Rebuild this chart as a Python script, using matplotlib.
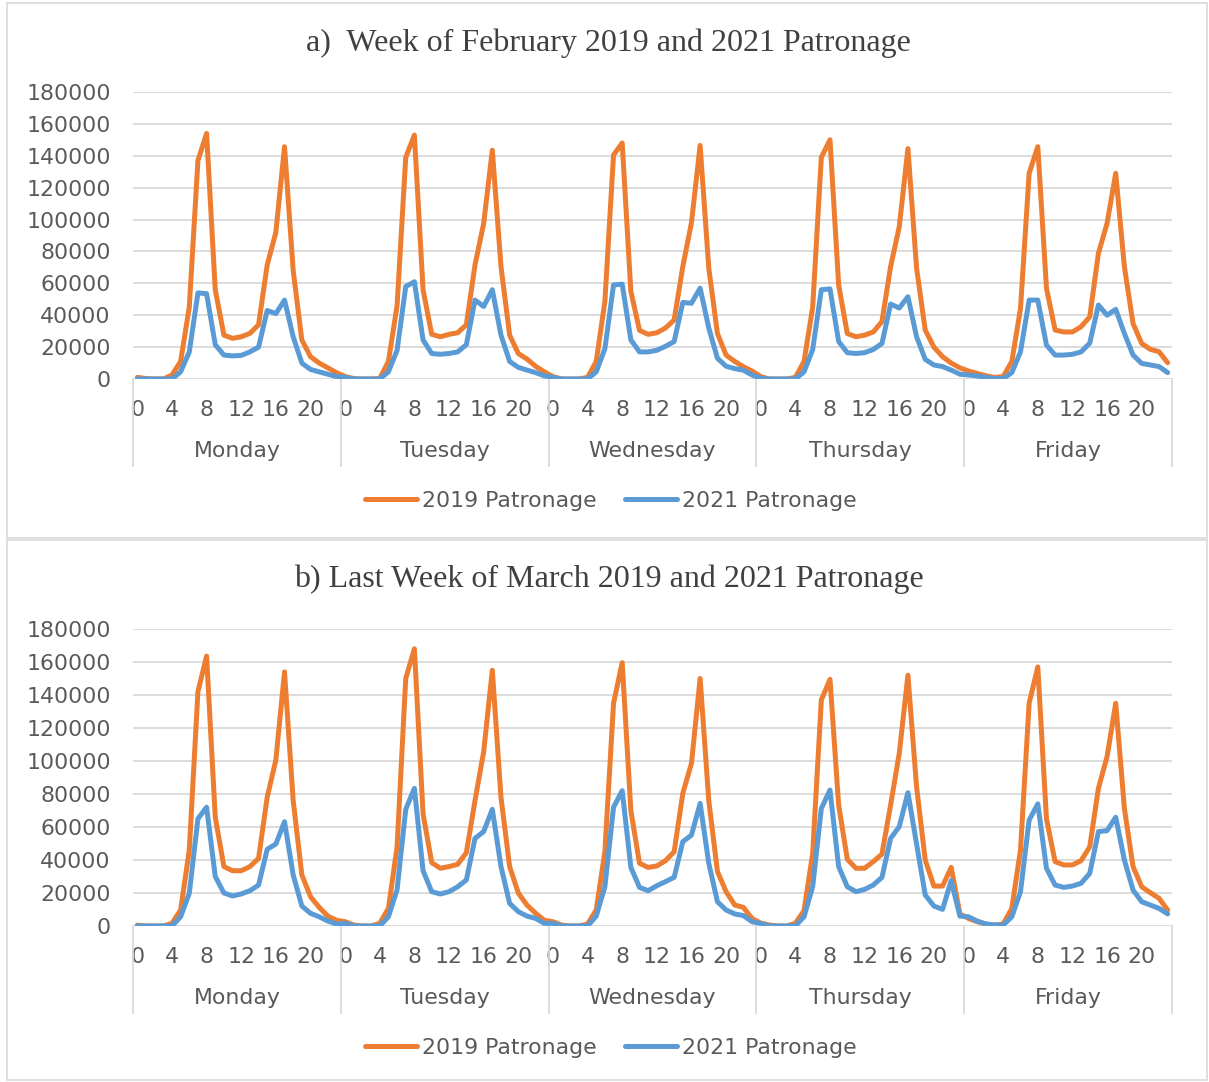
import matplotlib
matplotlib.use("Agg")
import matplotlib.pyplot as plt
from matplotlib.transforms import ScaledTranslation
from matplotlib.patches import Rectangle
from matplotlib.lines import Line2D

days = ["Monday", "Tuesday", "Wednesday", "Thursday", "Friday"]
hour_labels = ["0", "4", "8", "12", "16", "20"]
yticks = [0, 20000, 40000, 60000, 80000, 100000, 120000, 140000, 160000, 180000]

# a) week of February, hourly patronage Mon..Fri (24 values per day)
feb_2019 = [
    1000, 300, 0, 0, 2500, 11000, 45000, 137000, 154000, 56000, 27500, 25500,
    26500, 28600, 34000, 71500, 92000, 145700, 68000, 24500, 14000, 10000, 7000, 4000,
    1500, 300, 0, 0, 300, 11000, 46000, 139000, 153000, 56000, 28000, 26500,
    28000, 29000, 34000, 71500, 97500, 143500, 70500, 27500, 16000, 12500, 8000, 4500,
    1500, 0, 0, 0, 1000, 11000, 48500, 140500, 148000, 55000, 30500, 28000,
    29000, 32000, 37000, 70500, 98000, 146500, 69500, 28500, 15000, 11000, 7700, 5000,
    1500, 0, 0, 0, 1000, 11000, 45000, 139000, 150000, 59000, 28500, 26500,
    27500, 29500, 36000, 70500, 95500, 144500, 69500, 30700, 20000, 14000, 10000, 7000,
    5000, 3500, 2000, 1000, 1500, 11000, 44000, 129000, 145700, 57000, 30700, 29500,
    29500, 32800, 39000, 78800, 97600, 129000, 70400, 34800, 22300, 18600, 17100, 10200,
]
feb_2021 = [
    0, 0, 0, 0, 0, 4500, 17000, 54000, 53500, 21500, 15000, 14500,
    14800, 17000, 20000, 43000, 41000, 49500, 26500, 10000, 6000, 4500, 3000, 1500,
    1000, 0, 0, 0, 0, 4500, 18000, 58000, 61000, 24500, 16000, 15500,
    16000, 17000, 21500, 49500, 45500, 56000, 27500, 11000, 7300, 5600, 4000, 2000,
    1000, 0, 0, 0, 0, 4500, 19000, 59000, 59500, 24500, 17000, 17000,
    18000, 20500, 23500, 48000, 47500, 57000, 32000, 13000, 8000, 6500, 5500, 2500,
    500, 0, 0, 0, 0, 4500, 18500, 56000, 56500, 23500, 16500, 16000,
    16500, 18500, 22300, 47000, 44500, 51600, 26500, 12300, 8800, 7800, 5600, 3000,
    2500, 1900, 1000, 300, 300, 4000, 17000, 49500, 49500, 21300, 15000, 15000,
    15500, 17000, 22500, 46400, 40000, 43700, 28600, 15000, 9800, 8800, 7800, 4000,
]

# b) last week of March
mar_2019 = [
    500, 0, 0, 0, 1600, 9700, 46000, 142000, 163600, 66000, 36000, 33500,
    33500, 36000, 41000, 78000, 100600, 154000, 76000, 31000, 17800, 11300, 6000, 3500,
    2600, 600, 0, 0, 1600, 10700, 48000, 150000, 168000, 68000, 38400, 35000,
    36000, 37400, 44400, 76000, 105600, 155000, 78000, 36000, 20000, 12700, 7700, 3500,
    2600, 600, 0, 0, 1200, 9700, 45000, 135000, 159600, 70000, 38000, 35500,
    36400, 39600, 45000, 80400, 98600, 150000, 76000, 33000, 20800, 12700, 11300, 4500,
    1800, 600, 0, 0, 1600, 9300, 44000, 137000, 149500, 73300, 40400, 35000,
    35000, 39000, 43600, 73300, 104600, 152000, 84400, 40000, 24200, 24200, 35500, 7300,
    4600, 2600, 1200, 600, 1200, 10700, 46000, 135000, 157000, 65000, 39000, 37000,
    37000, 39600, 48000, 83400, 102600, 135000, 71300, 36000, 23800, 20200, 16800, 9700,
]
mar_2021 = [
    0, 0, 0, 0, 0, 5600, 19800, 65000, 72000, 30000, 20000, 18200,
    19400, 21400, 24800, 46500, 49700, 63200, 31000, 12100, 7700, 5600, 3000, 1200,
    1600, 0, 0, 0, 0, 5600, 22000, 70700, 83400, 33500, 20800, 19400,
    20800, 23800, 27900, 53100, 57200, 70700, 36000, 13700, 8700, 6000, 4600, 1600,
    1600, 0, 0, 0, 0, 6000, 23800, 72000, 82000, 35500, 23400, 21400,
    24400, 26900, 29500, 51100, 55100, 74300, 38000, 14700, 9700, 7300, 6300, 2600,
    1500, 0, 0, 0, 0, 5600, 23800, 71300, 82400, 36000, 23800, 20800,
    22200, 24800, 29500, 53100, 60200, 80800, 49700, 18800, 12100, 10100, 27500, 6000,
    5600, 3000, 1200, 600, 600, 5600, 20800, 64200, 74000, 35000, 24800, 23400,
    24200, 25900, 31900, 57200, 57800, 65900, 40000, 21800, 14700, 12700, 10700, 7300,
]

ORANGE = "#ED7D31"
BLUE = "#5B9BD5"
GRID = "#d9d9d9"
TXT = "#595959"
FONT = "DejaVu Sans"
FS = 15.8

fig = plt.figure(figsize=(12.09, 10.82), dpi=100)
W, H = 1209, 1082

# panel borders
for (x0, y0, x1, y1) in [(7, 3, 1207, 538), (7, 540, 1207, 1080)]:
    fig.patches.append(Rectangle((x0 / W, 1 - y1 / H), (x1 - x0) / W, (y1 - y0) / H,
                                 transform=fig.transFigure, fill=False,
                                 edgecolor=GRID, linewidth=1.2))


def draw_panel(top_px, bottom_px, title, title_px, legend_px, s2019, s2021):
    ax = fig.add_axes([133 / W, 1 - bottom_px / H, (1172 - 133) / W, (bottom_px - top_px) / H])
    x = list(range(len(s2019)))
    l1, = ax.plot(x, s2019, color=ORANGE, lw=3.6, solid_joinstyle="round", solid_capstyle="round",
                  label="2019 Patronage", zorder=3)
    l2, = ax.plot(x, s2021, color=BLUE, lw=3.6, solid_joinstyle="round", solid_capstyle="round",
                  label="2021 Patronage", zorder=4)
    ax.set_xlim(-0.5, len(s2019) - 0.5)
    ax.set_ylim(0, 180000)
    ax.set_yticks(yticks)
    ax.set_yticklabels([str(v) for v in yticks], fontsize=FS, color=TXT, family=FONT)
    ax.grid(axis="y", color=GRID, lw=1.3)
    ax.set_axisbelow(True)
    for s in ax.spines.values():
        s.set_visible(False)
    ax.tick_params(axis="y", length=0, pad=16)

    pos, labs = [], []
    for d in range(len(days)):
        for i, h in enumerate(hour_labels):
            pos.append(d * 24 + i * 4)
            labs.append(h)
    ax.set_xticks(pos)
    ax.set_xticklabels(labs, fontsize=FS, color=TXT, family=FONT)
    ax.tick_params(axis="x", length=0, pad=15)

    xt = ax.get_xaxis_transform()
    for d, name in enumerate(days):
        ax.text(d * 24 + 11.5, 0, name, transform=xt + ScaledTranslation(0, -0.72, fig.dpi_scale_trans),
                ha="center", va="center", fontsize=FS, color=TXT, family=FONT)
    for d in range(len(days) + 1):
        ax.add_line(Line2D([d * 24 - 0.5] * 2, [0, -87 / (bottom_px - top_px)], transform=xt,
                           color=GRID, lw=1.3, clip_on=False))

    fig.text(0.5 + 4 / W, 1 - title_px / H, title, ha="center", va="center",
             fontsize=23, family="Liberation Serif", color="#404040")
    fig.legend(handles=[l1, l2], loc="center", bbox_to_anchor=(0.505, 1 - legend_px / H),
               ncol=2, frameon=False, handlelength=2.4, handletextpad=0.2,
               columnspacing=1.3, prop={"family": FONT, "size": FS}, labelcolor=TXT)


draw_panel(92, 379, "a)  Week of February 2019 and 2021 Patronage", 43, 501, feb_2019, feb_2021)
draw_panel(629, 926, "b) Last Week of March 2019 and 2021 Patronage", 579, 1048, mar_2019, mar_2021)

fig.savefig("out.png", dpi=100)
